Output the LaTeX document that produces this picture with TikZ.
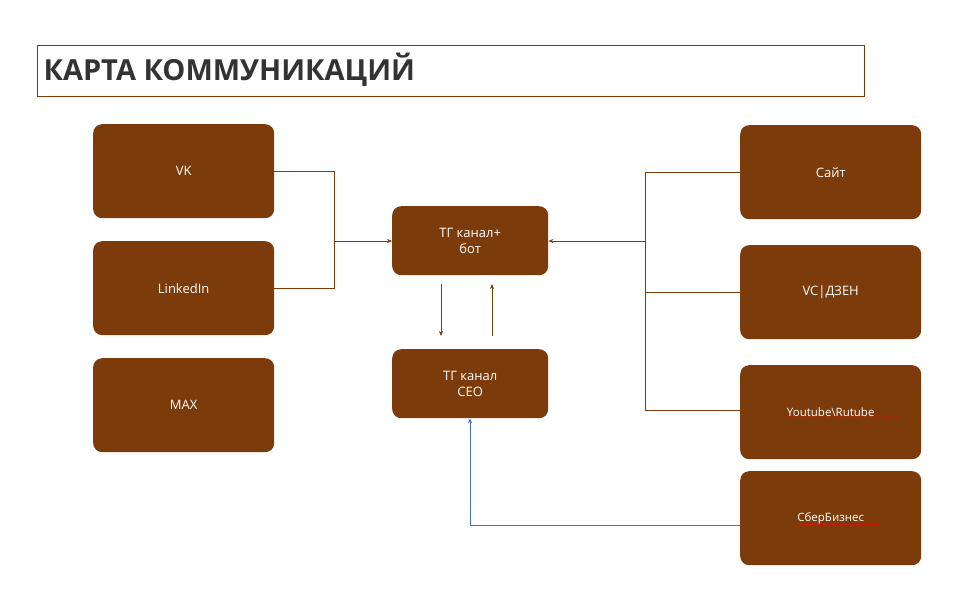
\documentclass[tikz,border=0pt]{standalone}
\usepackage{fontspec}
\setmainfont{Open Sans}
\usetikzlibrary{arrows.meta,decorations.pathmorphing}
\definecolor{brn}{HTML}{7B3B0B}
\definecolor{bl}{HTML}{4472C4}
\tikzset{
 box/.style={fill=brn,draw=none,rounded corners=9pt,text=white,font=\fontsize{13}{16}\selectfont,align=center,inner sep=0pt},
 con/.style={draw=brn,line width=0.6pt},
 arr/.style={con,-{Stealth[length=5pt,width=4pt]}},
 wavy/.style={draw=red,line width=0.4pt,decorate,decoration={snake,amplitude=0.6pt,segment length=3pt}}
}
\begin{document}
\begin{tikzpicture}[x=1pt,y=-1pt]
\useasboundingbox (0,0) rectangle (960,602);
\node[draw=brn,line width=0.5pt,minimum width=827pt,minimum height=51pt,inner sep=0pt,anchor=north west] (title) at (37,45) {};
\node[anchor=west,text=black!80,font=\bfseries\fontsize{29}{34}\selectfont] (tt) at (40,70) {КАРТА КОММУНИКАЦИЙ};
\newcommand{\bx}[6]{\node[box,minimum width=#4pt,minimum height=#5pt,anchor=north west] (#1) at (#2,#3) {#6};}
\bx{vk}{93}{124}{181}{94}{VK}
\bx{li}{93}{241}{181}{94}{LinkedIn}
\bx{max}{93}{358}{181}{94}{MAX}
\bx{bot}{392}{206}{156}{69}{ТГ канал+\\бот}
\bx{ceo}{392}{349}{156}{69}{ТГ канал\\CEO}
\bx{site}{740}{125}{181}{94}{Сайт}
\bx{vc}{740}{245}{181}{94}{VC|ДЗЕН}
\bx{yt}{740}{365}{181}{94}{}
\bx{sb}{740}{471}{181}{94}{}
\node[text=white,font=\fontsize{11.5}{14}\selectfont] (ytt) at (yt) {Youtube\textbackslash Rutube};
\node[text=white,font=\fontsize{11.5}{14}\selectfont] (sbt) at (sb) {СберБизнес};
\draw[wavy] (ytt.south west)++(4,-3) -- ++(113,0);
\draw[wavy] (sbt.south west)++(4,-3) -- ++(82,0);
\coordinate (lj) at (334,241);
\coordinate (rj) at (645,241);
\draw[con] (vk.east |- 0,171) -| (lj);
\draw[con] (li.east |- 0,288) -| (lj);
\draw[arr] (lj) -- (bot.west |- lj);
\draw[con] (site.west |- 0,172) -| (645,410) -- (yt.west |- 0,410);
\draw[con] (645,292) -- (vc.west |- 0,292);
\draw[arr] (rj) -- (bot.east |- rj);
\draw[arr] (441,284) -- (441,336);
\draw[arr] (492,336) -- (492,284);
\draw[draw=bl,line width=0.6pt,-{Stealth[length=5pt,width=4pt]}] (sb.west |- 0,525) -| (ceo.south -| 470,0);
\end{tikzpicture}
\end{document}
